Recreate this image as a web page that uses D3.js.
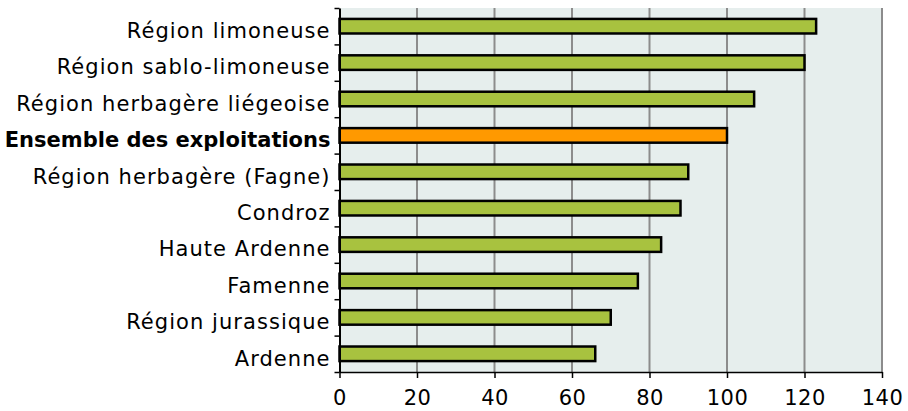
<!DOCTYPE html>
<html>
<head>
<meta charset="utf-8">
<script src="https://cdn.jsdelivr.net/npm/d3@7"></script>
<style>
body { margin: 0; background: #fff; }
svg { display: block; }
text { font-family: "DejaVu Sans", Verdana, sans-serif; fill: #000; }
</style>
</head>
<body>
<svg id="chart" width="908" height="411"></svg>
<script>
const categories = [
  "Région limoneuse",
  "Région sablo-limoneuse",
  "Région herbagère liégeoise",
  "Ensemble des exploitations",
  "Région herbagère (Fagne)",
  "Condroz",
  "Haute Ardenne",
  "Famenne",
  "Région jurassique",
  "Ardenne"
];
const values = [123, 120, 107, 100, 90, 88, 83, 77, 70, 66];
const highlight = "Ensemble des exploitations";
const xTicks = [0, 20, 40, 60, 80, 100, 120, 140];

(function () {
const svg = d3.select("#chart");
const mLeft = 339.5, mRight = 882, mTop = 8, mBottom = 372;

const x = d3.scaleLinear().domain([0, 140]).range([mLeft, mRight]);
const y = d3.scaleBand().domain(categories).range([mTop, mBottom])
  .paddingInner(0.6).paddingOuter(0.3);
const yIdx = d3.scaleLinear().domain([0, categories.length]).range([mTop, mBottom]);

// plot background
svg.append("rect")
  .attr("x", mLeft).attr("y", mTop)
  .attr("width", mRight - mLeft).attr("height", mBottom - mTop)
  .attr("fill", "#e6eeed");

// gridlines
svg.append("g")
  .selectAll("line")
  .data(xTicks.filter(d => d > 0))
  .join("line")
  .attr("x1", d => x(d)).attr("x2", d => x(d))
  .attr("y1", mTop).attr("y2", mBottom)
  .attr("stroke", "#8c8c8c")
  .attr("stroke-width", 2);

// bars
svg.append("g")
  .selectAll("rect")
  .data(categories.map((c, i) => ({c, v: values[i]})))
  .join("rect")
  .attr("x", x(0))
  .attr("y", d => y(d.c))
  .attr("width", d => x(d.v) - x(0))
  .attr("height", y.bandwidth())
  .attr("fill", d => d.c === highlight ? "#ff9900" : "#a8c23f")
  .attr("stroke", "#000")
  .attr("stroke-width", 2.5);

// bottom axis
const xAxis = svg.append("g")
  .attr("transform", `translate(0,${mBottom})`)
  .call(d3.axisBottom(x).tickValues(xTicks).tickSize(6).tickSizeOuter(0).tickPadding(12));
xAxis.select(".domain").attr("stroke", "#000").attr("stroke-width", 1.5);
xAxis.selectAll(".tick line").attr("stroke", "#000").attr("stroke-width", 1.5);
xAxis.selectAll("text")
  .style("font-size", "21px")
  .style("letter-spacing", "0.5px")
  .style("font-family", '"DejaVu Sans", Verdana, sans-serif');

// left axis: boundary ticks
const yTickAxis = svg.append("g")
  .attr("transform", `translate(${mLeft},0)`)
  .call(d3.axisLeft(yIdx).tickValues(d3.range(categories.length + 1)).tickFormat("").tickSize(5).tickSizeOuter(0));
yTickAxis.select(".domain").attr("stroke", "#000").attr("stroke-width", 2);
yTickAxis.selectAll(".tick line").attr("stroke", "#000").attr("stroke-width", 1.5);

// left axis: labels
const yLab = svg.append("g")
  .attr("transform", `translate(${mLeft},0)`)
  .call(d3.axisLeft(y).tickSize(0).tickPadding(9));
yLab.select(".domain").remove();
yLab.selectAll("text")
  .attr("dy", "0.56em")
  .style("font-size", "21px")
  .style("letter-spacing", d => d === highlight ? "0px" : "1.05px")
  .style("font-family", '"DejaVu Sans", Verdana, sans-serif')
  .style("font-weight", d => d === highlight ? "bold" : "normal");
})();
</script>
</body>
</html>
